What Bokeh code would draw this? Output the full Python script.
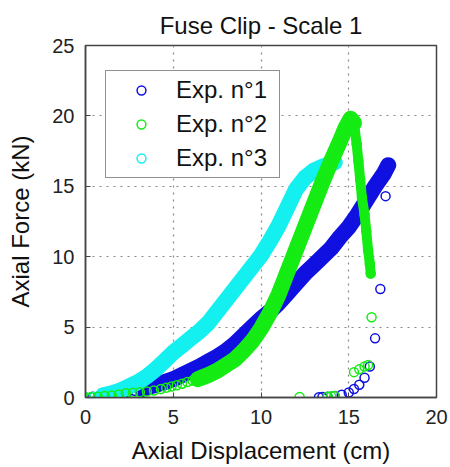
from bokeh.plotting import figure
from bokeh.models import Legend, LegendItem, Range1d
from bokeh.embed import file_html
from bokeh.resources import INLINE

# ---------------- data ----------------
x_ticks = [0, 5, 10, 15, 20]
y_ticks = [0, 5, 10, 15, 20, 25]

labels = ["Exp. n\u00b01", "Exp. n\u00b02", "Exp. n\u00b03"]

# Exp. n°1 (blue): loading then unloading
b_x = [0, 0.4, 0.8, 1.2, 1.6, 2.0, 2.4, 2.8, 3.2, 3.6, 4.0, 4.5, 5, 5.5, 6, 6.5, 7, 7.5, 8,
       8.5, 9, 9.5, 10, 10.5, 11, 11.5, 12, 12.5, 13, 13.5, 14, 14.5, 15, 15.5, 16, 16.5, 17, 17.25,
       17.1, 16.8, 16.5, 16.2, 15.9, 15.6, 15.3, 15.0, 14.6, 14.2, 13.8, 13.5, 13.3]
b_y = [0, 0.05, 0.1, 0.15, 0.22, 0.3, 0.38, 0.48, 0.6, 0.75, 0.9, 1.1, 1.3, 1.6, 1.9, 2.2, 2.55, 2.9, 3.3,
       3.8, 4.4, 5.0, 5.6, 6.1, 6.7, 7.4, 8.1, 8.8, 9.4, 10.0, 10.6, 11.4, 12.1, 13.0, 14.0, 15.0, 15.9, 16.5,
       14.3, 7.7, 4.2, 2.2, 1.4, 0.9, 0.6, 0.35, 0.2, 0.1, 0.05, 0.03, 0.02]

# Exp. n°2 (green): sparse start, loading, descending leg, unloading
g_x = [0, 0.3, 0.7, 1.1, 1.5, 1.9, 2.3, 2.7, 3.1, 3.5, 3.9, 4.3, 4.6, 4.9, 5.2, 5.5, 5.8, 6.1, 6.4,
       6.6, 7, 7.5, 8, 8.5, 9, 9.5, 10, 10.5, 11, 11.5, 12, 12.5, 13, 13.5, 14, 14.5, 14.8, 15.1, 15.3,
       15.45, 15.55, 15.65, 15.75, 15.9, 16.0, 16.1, 16.2, 16.25,
       16.3, 16.1, 15.9, 15.6, 15.3, 14.2, 14.0, 13.8, 12.2]
g_y = [0, 0.02, 0.05, 0.1, 0.15, 0.22, 0.3, 0.33, 0.38, 0.42, 0.5, 0.6, 0.7, 0.78, 0.87, 0.98, 1.1, 1.2, 1.3,
       1.4, 1.6, 1.9, 2.3, 2.7, 3.3, 4.0, 4.9, 6.0, 7.3, 8.9, 10.5, 12.1, 13.7, 15.3, 16.8, 18.2, 19.1, 19.8, 19.5,
       18.0, 16.8, 15.5, 14.2, 13.0, 11.8, 10.5, 9.5, 8.8,
       5.7, 2.3, 2.2, 2.0, 1.8, 0.1, 0.08, 0.05, 0.03]

# Exp. n°3 (cyan)
c_x = [0, 0.5, 1, 1.5, 2, 2.5, 3, 3.5, 4, 4.5, 5, 5.5, 6, 6.5, 7, 7.5, 8, 8.5, 9, 9.5, 10,
       10.5, 11, 11.5, 12, 12.5, 13, 13.5, 14, 14.2]
c_y = [0, 0.05, 0.15, 0.3, 0.5, 0.8, 1.1, 1.5, 2.0, 2.6, 3.2, 3.7, 4.2, 4.7, 5.3, 6.1, 6.9, 7.7, 8.5, 9.3, 10.1,
       11.1, 12.2, 13.5, 14.8, 15.6, 16.1, 16.4, 16.6, 16.7]

BLUE = "#1010E0"
GREEN = "#14EC14"
CYAN = "#14F0F0"
FONT = "Liberation Sans"

p = figure(width=450, height=467, output_backend="svg", toolbar_location=None,
           x_range=Range1d(0, 20), y_range=Range1d(0, 25),
           min_border_left=85, min_border_right=14, min_border_top=45, min_border_bottom=70)

p.title.text = "Fuse Clip - Scale 1"
p.title.align = "center"
p.title.text_font = FONT
p.title.text_font_size = "24px"
p.title.text_font_style = "normal"
p.title.text_color = "#111111"
p.title.offset = 0
p.title.standoff = 13

for ax in (p.xaxis[0], p.yaxis[0]):
    ax.major_label_text_font = FONT
    ax.major_label_text_font_size = "20px"
    ax.major_label_text_color = "#222222"
    ax.axis_label_text_font = FONT
    ax.axis_label_text_font_size = "24px"
    ax.axis_label_text_font_style = "normal"
    ax.axis_label_text_color = "#111111"
    ax.major_tick_in = 5
    ax.major_tick_out = 0
    ax.minor_tick_line_color = None
    ax.axis_line_color = "#444444"
    ax.axis_line_width = 1.5
    ax.major_tick_line_color = "#444444"

p.xaxis.ticker = x_ticks
p.yaxis.ticker = y_ticks
p.xaxis.axis_label = "Axial Displacement (cm)"
p.yaxis.axis_label = "Axial Force (kN)"
p.xaxis.major_label_standoff = 12
p.yaxis.major_label_standoff = 11
p.xaxis.axis_label_standoff = 10
p.yaxis.axis_label_standoff = 15

p.xgrid.ticker = x_ticks
p.ygrid.ticker = y_ticks
for g in (p.xgrid[0], p.ygrid[0]):
    g.grid_line_color = "#888888"
    g.grid_line_dash = "2 5"
    g.grid_line_width = 1.2

p.outline_line_color = "#444444"
p.outline_line_width = 1.5
p.background_fill_color = "white"
p.border_fill_color = "white"

# dense parts drawn as thick bands of overlapping markers
p.line(b_x[8:38], b_y[8:38], line_width=16, line_color=BLUE, line_cap="round", line_join="round")
rb = p.scatter(b_x, b_y, marker="circle", size=9, fill_color=None, line_color=BLUE, line_width=1.5)

p.line(c_x[2:], c_y[2:], line_width=16, line_color=CYAN, line_cap="round", line_join="round")
rc = p.scatter(c_x, c_y, marker="circle", size=9, fill_color=None, line_color=CYAN, line_width=1.5)

p.line(g_x[18:39], g_y[18:39], line_width=16, line_color=GREEN, line_cap="round", line_join="round")
p.line(g_x[38:48], g_y[38:48], line_width=10, line_color=GREEN, line_cap="round", line_join="round")
rg = p.scatter(g_x, g_y, marker="circle", size=9, fill_color=None, line_color=GREEN, line_width=1.5)

legend = Legend(items=[LegendItem(label=labels[0], renderers=[rb]),
                       LegendItem(label=labels[1], renderers=[rg]),
                       LegendItem(label=labels[2], renderers=[rc])],
                location=(20, 219))
legend.label_text_font = FONT
legend.label_text_font_size = "24px"
legend.label_text_color = "#111111"
legend.border_line_color = "#222222"
legend.border_line_width = 1.5
legend.background_fill_color = "white"
legend.background_fill_alpha = 1.0
legend.padding = 5
legend.spacing = 6
legend.margin = 0
legend.glyph_width = 60
legend.glyph_height = 22
legend.label_height = 22
legend.label_width = 98
legend.label_standoff = 5
p.add_layout(legend, "center")

open("out.html", "w").write(file_html(p, INLINE))
